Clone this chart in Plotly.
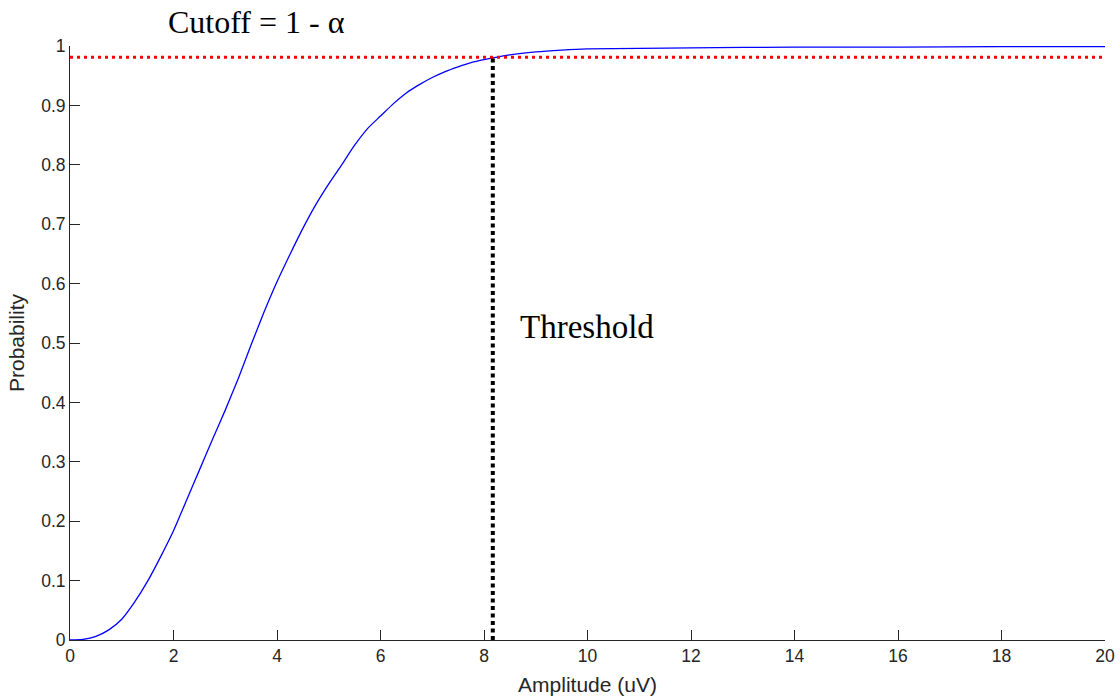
import plotly.graph_objects as go

amplitude = [0, 0.25, 0.5, 0.75, 1.0, 1.25, 1.5, 1.75, 2.0, 2.25, 2.5, 2.75, 3.0, 3.25, 3.5,
             3.75, 4.0, 4.25, 4.5, 4.75, 5.0, 5.25, 5.5, 5.75, 6.0, 6.25, 6.5, 6.75, 7.0, 7.25,
             7.5, 7.75, 8.0, 8.5, 9.0, 9.5, 10, 11, 12, 14, 16, 18, 20]
probability = [0, 0.001, 0.006, 0.017, 0.035, 0.064, 0.099, 0.14, 0.184, 0.235, 0.286, 0.337,
               0.387, 0.44, 0.497, 0.552, 0.603, 0.649, 0.693, 0.733, 0.768, 0.80, 0.833,
               0.861, 0.882, 0.903, 0.921, 0.935, 0.947, 0.957, 0.965, 0.972, 0.977, 0.985,
               0.990, 0.993, 0.995, 0.996, 0.997, 0.998, 0.998, 0.999, 0.999]
cutoff = 0.981
threshold = 8.17
x_ticks = [0, 2, 4, 6, 8, 10, 12, 14, 16, 18, 20]
y_ticks = [0, 0.1, 0.2, 0.3, 0.4, 0.5, 0.6, 0.7, 0.8, 0.9, 1]

fig = go.Figure()
fig.add_trace(go.Scatter(x=amplitude, y=probability, mode="lines", line_shape="spline",
                         line=dict(color="#0000ff", width=1.3, smoothing=0.6), showlegend=False))
fig.add_trace(go.Scatter(x=[0, 20], y=[cutoff, cutoff], mode="lines",
                         line=dict(color="#ff0000", width=3, dash="3px,4px"),
                         showlegend=False, cliponaxis=False))
fig.add_trace(go.Scatter(x=[threshold, threshold], y=[0, cutoff], mode="lines",
                         line=dict(color="#000000", width=4, dash="4px,3.5px"),
                         showlegend=False, cliponaxis=False))

axis_common = dict(showgrid=False, zeroline=False, showline=True, linecolor="#262626",
                   linewidth=1, ticks="inside", ticklen=10, tickcolor="#262626",
                   automargin=False,
                   tickfont=dict(family="Liberation Sans, Arial", size=17.5, color="#262626"))

fig.update_xaxes(range=[0, 20], tickvals=x_ticks, ticktext=[str(v) for v in x_ticks],
                 title=dict(text="Amplitude (uV)", standoff=12,
                            font=dict(family="Liberation Sans, Arial", size=21, color="#262626")),
                 **axis_common)
fig.update_yaxes(range=[0, 1], tickvals=y_ticks, ticktext=[("%g" % v) for v in y_ticks],
                 title=dict(text="Probability", standoff=10,
                            font=dict(family="Liberation Sans, Arial", size=21, color="#262626")),
                 **axis_common)

fig.add_annotation(x=3.604, y=1.0404, xref="x", yref="paper", text="Cutoff = 1 - α",
                   showarrow=False, xanchor="center", yanchor="middle",
                   font=dict(family="Liberation Serif", size=32, color="#000000"))
fig.add_annotation(x=8.66, y=0.527, xref="x", yref="y", text="Threshold",
                   showarrow=False, xanchor="left", yanchor="middle",
                   font=dict(family="Liberation Serif", size=33, color="#000000"))

fig.update_layout(width=1120, height=698, margin=dict(l=70, r=15, t=46, b=58),
                  plot_bgcolor="white", paper_bgcolor="white")

fig.write_html("out.html")
